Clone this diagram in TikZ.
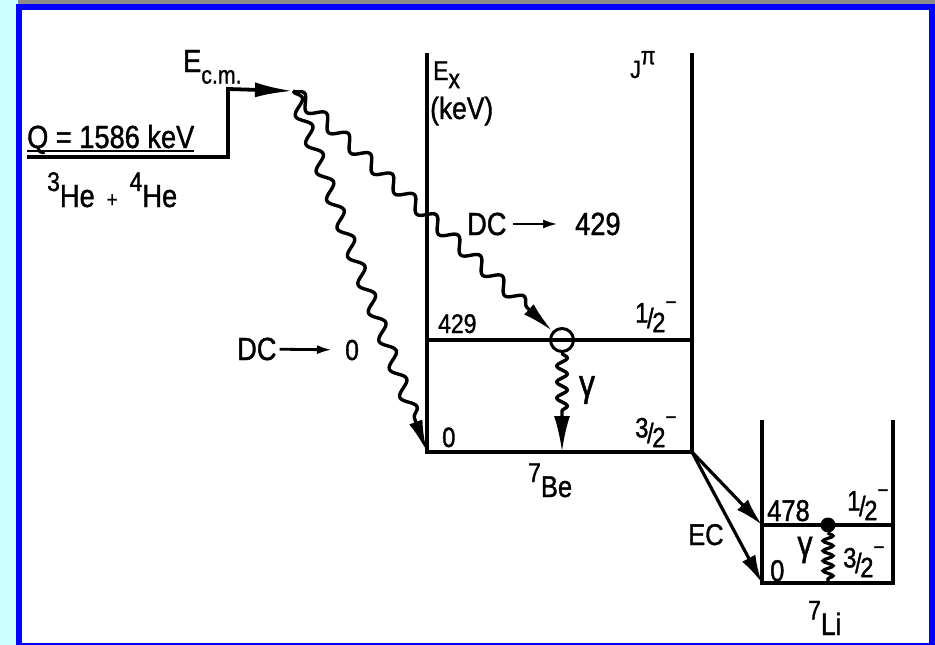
\documentclass[tikz,border=0pt]{standalone}
\usepackage{fontspec}
\setmainfont{Liberation Sans}[FakeStretch=0.85, FakeBold=1.2]
\usetikzlibrary{arrows.meta, positioning, decorations.pathmorphing}
\definecolor{bgcyan}{HTML}{CCFFFF}
\definecolor{framegray}{HTML}{8C8C8C}
\definecolor{frameblue}{HTML}{0000FF}
\newcommand{\spinfrac}[1]{\raisebox{0.2em}{#1}\kern-0.05em/\kern-0.05em\raisebox{-0.15em}{2}\raisebox{0.66em}{\fontsize{22}{22}\selectfont −}}
\newcommand{\nuc}[2]{\raisebox{0.5em}{\fontsize{27}{27}\selectfont #1}#2}

\begin{document}
\begin{tikzpicture}[x=1pt, y=-1pt, font=\fontsize{32}{38}\selectfont,
    lvl/.style={line width=3.8pt, line join=miter},
    lab/.style={inner sep=0pt, anchor=base west},
    num/.style={lab, font=\fontsize{28}{34}\selectfont},
    wave/.style={line width=3.4pt, line join=round, decorate,
      decoration={snake, amplitude=6.5pt, segment length=30pt, post length=30pt},
      -{Latex[length=32pt, width=14pt]}},
    gwave/.style={line width=3.4pt, line join=round, decorate,
      decoration={snake, amplitude=5.5pt, segment length=16pt, post length=36pt},
      -{Latex[length=36pt, width=16pt]}},
    coil/.style={line width=3.2pt, decorate,
      decoration={snake, amplitude=5pt, segment length=10pt}},
    ec/.style={line width=3.2pt, -{Latex[length=28pt, width=15pt]}},
    dcarrow/.style={line width=2.8pt, -{Latex[length=15pt, width=9pt]}},
    dot/.style={circle, fill, inner sep=0pt, minimum size=15pt}]

  % frame
  \useasboundingbox (0,0) rectangle (935,645);
  \fill[bgcyan] (0,0) rectangle (935,645);
  \fill[framegray] (18,0) rectangle (935,4);
  \fill[frameblue] (16,4) rectangle (935,645);
  \fill[white] (22,10) rectangle (929,643);

  % 7Be levels
  \coordinate (beTL) at (427,53);
  \coordinate (beTR) at (692,53);
  \coordinate (be1L) at (427,340);
  \coordinate (be1R) at (692,340);
  \coordinate (be0L) at (427,452);
  \coordinate (be0R) at (692,452);
  \draw[lvl] (beTL) -- (be0L) -- (be0R) -- (beTR);
  \draw[lvl] (be1L) -- (be1R);

  % 7Li levels
  \coordinate (liTL) at (762,420);
  \coordinate (liTR) at (893,420);
  \coordinate (li1L) at (762,525);
  \coordinate (li1R) at (893,525);
  \coordinate (li0L) at (762,583);
  \coordinate (li0R) at (893,583);
  \draw[lvl] (liTL) -- (li0L) -- (li0R) -- (liTR);
  \draw[lvl] (li1L) -- (li1R);

  % entrance channel
  \coordinate (qL) at (27,157);
  \coordinate (qS) at (228,157);
  \coordinate (ecm) at (228,89);
  \coordinate (ecmT) at (293,91);
  \draw[lvl, -{Latex[length=38pt, width=15pt]}] (qL) -- (qS) -- (ecm) -- (ecmT);

  \node[lab] (qlab) at (27,148) {Q = 1586 keV};
  \draw[line width=2.6pt] ([yshift=-3pt]qlab.base west) -- ([yshift=-3pt]qlab.base east);
  \node[lab] (react) at (47,207) {\nuc{3}{He}\hspace{12pt}{\fontsize{22}{22}\selectfont +}\hspace{12pt}\nuc{4}{He}};
  \node[lab] (ecmlab) at (183,72) {E\raisebox{-0.36em}{\fontsize{25}{25}\selectfont c.m.}};

  % axis labels
  \node[lab, font=\fontsize{27}{32}\selectfont] (exlab) at (433,80) {E\raisebox{-0.3em}{x}};
  \node[lab, font=\fontsize{31}{36}\selectfont] (kev) at (430,119) {(keV)};
  \node[lab, font=\fontsize{25}{30}\selectfont] (jpi) at (630,78) {J\raisebox{0.55em}{π}};

  % direct capture
  \node[circle, draw, line width=3pt, minimum size=23pt, inner sep=0pt] (c429) at (562,340) {};
  \draw[wave] (ecmT) -- (c429);
  \draw[wave] (ecmT) -- (be0L);

  \node[lab] (dc429) at (467,235) {DC};
  \node[lab] (to429) at (575,235) {429};
  \draw[dcarrow, shorten <=6pt, shorten >=17pt] (dc429) -- (to429);
  \node[lab] (dc0) at (237,360) {DC};
  \node[lab, font=\fontsize{29}{34}\selectfont] (to0) at (345,360) {0};
  \draw[dcarrow, shorten <=3pt, shorten >=13pt] (dc0) -- (to0);

  % gamma in 7Be
  \coordinate (g0) at (c429 |- be0L);
  \draw[gwave] (c429) -- (g0);
  \node[inner sep=0pt, font=\fontsize{38}{42}\selectfont] (gbe) at (587,390) {γ};

  % 7Be labels
  \node[num, font=\fontsize{27}{32}\selectfont] (l429) at (438,333) {429};
  \node[num] (j12) at (635,328) {\spinfrac{1}};
  \node[num] (l0) at (442,447) {0};
  \node[num] (j32) at (635,443) {\spinfrac{3}};
  \node[lab, font=\fontsize{30}{35}\selectfont] (be) at (528,497) {\nuc{7}{Be}};

  % electron capture
  \draw[ec] (be0R) -- (li1L);
  \draw[ec] (be0R) -- (li0L);
  \node[lab, font=\fontsize{30}{36}\selectfont] (eclab) at (688,545) {EC};

  % gamma in 7Li
  \node[dot] (d478) at (828,525) {};
  \coordinate (lg0) at (d478 |- li0L);
  \draw[coil] (d478) -- (lg0);
  \node[inner sep=0pt, font=\fontsize{36}{40}\selectfont] (gli) at (805,550) {γ};

  % 7Li labels
  \node[num, font=\fontsize{30}{36}\selectfont] (l478) at (767,521) {478};
  \node[num] (lj12) at (847,516) {\spinfrac{1}};
  \node[num, font=\fontsize{30}{36}\selectfont] (ll0) at (770,581) {0};
  \node[num] (lj32) at (843,573) {\spinfrac{3}};
  \node[lab, font=\fontsize{31}{36}\selectfont] (li) at (808,635) {\nuc{7}{Li}};

\end{tikzpicture}
\end{document}
